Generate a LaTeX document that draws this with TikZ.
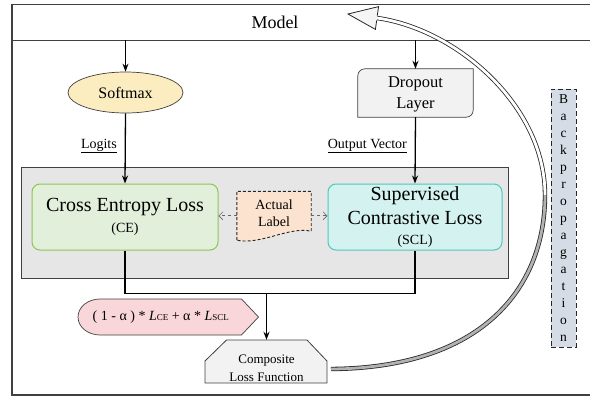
\documentclass[tikz,border=0pt]{standalone}
\usepackage{fontspec}
\setmainfont{Liberation Serif}
\usetikzlibrary{arrows.meta,shapes.geometric}

\definecolor{softfill}{HTML}{FCEDC0}
\definecolor{greyfill}{HTML}{F2F2F2}
\definecolor{contfill}{HTML}{E7E6E6}
\definecolor{cefill}{HTML}{E2EFDA}
\definecolor{celine}{HTML}{8BC652}
\definecolor{sclfill}{HTML}{D4F3F0}
\definecolor{sclline}{HTML}{4FC6BE}
\definecolor{lblfill}{HTML}{FBE3D0}
\definecolor{fmlfill}{HTML}{F9D6D9}
\definecolor{bpfill}{HTML}{D6DCE5}
\definecolor{edge}{HTML}{404040}

\tikzset{
  arr/.style={line width=1.3pt, -{Stealth[length=8pt,width=6pt]}},
  wire/.style={line width=1.3pt},
  dasharr/.style={dashed, line width=0.6pt, draw=black!60, -{Straight Barb[length=4pt,width=8pt]}},
  fsmall/.style={font=\fontsize{14}{16}\selectfont},
  lossbox/.style={rectangle, rounded corners=8pt, line width=1pt, align=center, inner sep=0pt},
  bpline/.style={draw=black!85, line width=0.8pt, double distance=2.8pt},
}

\begin{document}
\begin{tikzpicture}[x=1pt,y=-1pt]
\useasboundingbox (0,0) rectangle (590,397);

% outer frame and header
\draw[line width=1.1pt, draw=edge] (12,4.5) rectangle (592,395);
\draw[line width=1pt, draw=edge] (12,40) -- (592,40);
\node[font=\fontsize{18}{20}\selectfont] (model) at (275,22) {Model};

\coordinate (hs) at (125.5,40);
\coordinate (hd) at (415.5,40);

% first stage
\node[ellipse, draw=edge, line width=0.7pt, fill=softfill, minimum width=115pt,
      minimum height=41pt, inner sep=0pt, font=\fontsize{16}{18}\selectfont]
      (soft) at (125.5,92.5) {Softmax};
\node[rectangle, minimum width=115pt, minimum height=48pt, inner sep=0pt] (drop) at (415.5,93) {};
\filldraw[fill=greyfill, draw=edge, line width=0.7pt]
  (drop.south west) -- ([yshift=-7pt]drop.north west)
  arc[start angle=180, end angle=90, radius=7pt] -- (drop.north east)
  -- ([yshift=7pt]drop.south east)
  arc[start angle=0, end angle=-90, radius=7pt] -- cycle;
\node[align=center, font=\fontsize{16.5}{21}\selectfont] at ([shift={(0,1.5)}]drop.center) {Dropout\\Layer};

\draw[arr] (hs) -- (soft.north);
\draw[arr] (hd) -- (drop.north);

\node[fsmall, anchor=east, inner sep=0pt] (logits) at (117,146) {\underline{Logits}};
\node[fsmall, anchor=east, inner sep=0pt] (outvec) at (407,146) {\underline{Output Vector}};

% loss container
\draw[fill=contfill, draw=edge, line width=1pt] (21.5,167) rectangle (508,278);

\node[lossbox, draw=celine, fill=cefill, minimum width=186pt, minimum height=66pt,
      font=\fontsize{20}{21}\selectfont]
  (ce) at (125,217)
  {Cross Entropy Loss\\{\fontsize{14}{16}\selectfont (CE)}};
\node[lossbox, draw=sclline, fill=sclfill, minimum width=174pt, minimum height=66pt,
      font=\fontsize{20}{24}\selectfont]
  (scl) at (415,217)
  {Supervised\\Contrastive Loss\\[-4pt]{\fontsize{14}{16}\selectfont (SCL)}};

% document-shaped label
\node[minimum width=74pt, minimum height=48.5pt, inner sep=0pt] (lbl) at (274,215.75) {};
\filldraw[fill=lblfill, draw=black!85, line width=0.9pt, dash pattern=on 3pt off 2pt]
  (lbl.south west) -- (lbl.north west) -- (lbl.north east)
  -- ([shift={(0,-9)}]lbl.south east)
  .. controls ([shift={(-22,-14)}]lbl.south east) and ([shift={(24,5)}]lbl.south west)
  .. (lbl.south west) -- cycle;
\node[align=center, font=\fontsize{14}{17}\selectfont] at ([shift={(0,-3)}]lbl.center) {Actual\\Label};

\draw[dasharr] (lbl.west) -- (lbl.west -| ce.east);
\draw[dasharr] (lbl.east) -- (lbl.east -| scl.west);

\draw[arr] (soft.south) -- (ce.north);
\draw[arr] (drop.south) -- (scl.north);

% composite loss
\node[minimum width=122pt, minimum height=56pt, inner sep=0pt] (comp) at (266.5,368) {};
\filldraw[fill=greyfill, draw=edge, line width=0.8pt]
  (205,383) -- (205,361) -- (226.5,340) -- (307,340) -- (327,361) -- (327,383) -- cycle;
\node[align=center, font=\fontsize{13}{18}\selectfont] at (comp.center) {Composite\\Loss Function};

\coordinate (j) at (266.5,293.5);
\draw[wire] (ce.south) |- (j) -| (scl.south);
\draw[arr] (j) -- (comp.north);

% weighting formula
\filldraw[fill=fmlfill, draw=edge, line width=0.7pt]
  (100,335) arc[start angle=270, end angle=90, x radius=22pt, y radius=18pt]
  -- (241.5,299) -- (258.5,317) -- (241.5,335) -- cycle;
\node[anchor=west, font=\fontsize{14}{16}\selectfont, inner sep=0pt] (form) at (92.5,317)
  {( 1 - α ) * \textit{L}{\fontsize{9}{10}\selectfont CE} + α * \textit{L}{\fontsize{9}{10}\selectfont SCL}};

% backpropagation arrow
\coordinate (bpstart) at (331,369);
\coordinate (bpmid) at (545,195);
\coordinate (bphead) at (377,18);
\coordinate (bptip) at (348,14);
\draw[bpline, double=black!30] (bpstart) .. controls (480,368) and (545,290) .. (bpmid);
\draw[bpline, double=white] (bpmid) .. controls (545,105) and (456,29) .. (bphead);
\fill[white!96!black] (378.6,6.6) -- (bptip) -- (375.4,29.4) -- cycle;
\draw[draw=black!85, line width=0.8pt, line join=miter]
  (377.3,15.6) -- (378.6,6.6) -- (bptip) -- (375.4,29.4) -- (376.7,20.4);

% vertical caption
\node[draw=black!85, fill=bpfill, line width=0.9pt, dash pattern=on 5pt off 3pt,
      minimum width=25pt, minimum height=258pt, inner sep=0pt, align=center,
      font=\fontsize{13.5}{17}\selectfont] (bp) at (563.5,218)
  {B\\a\\c\\k\\p\\r\\o\\p\\a\\g\\a\\t\\i\\o\\n};
\end{tikzpicture}
\end{document}
